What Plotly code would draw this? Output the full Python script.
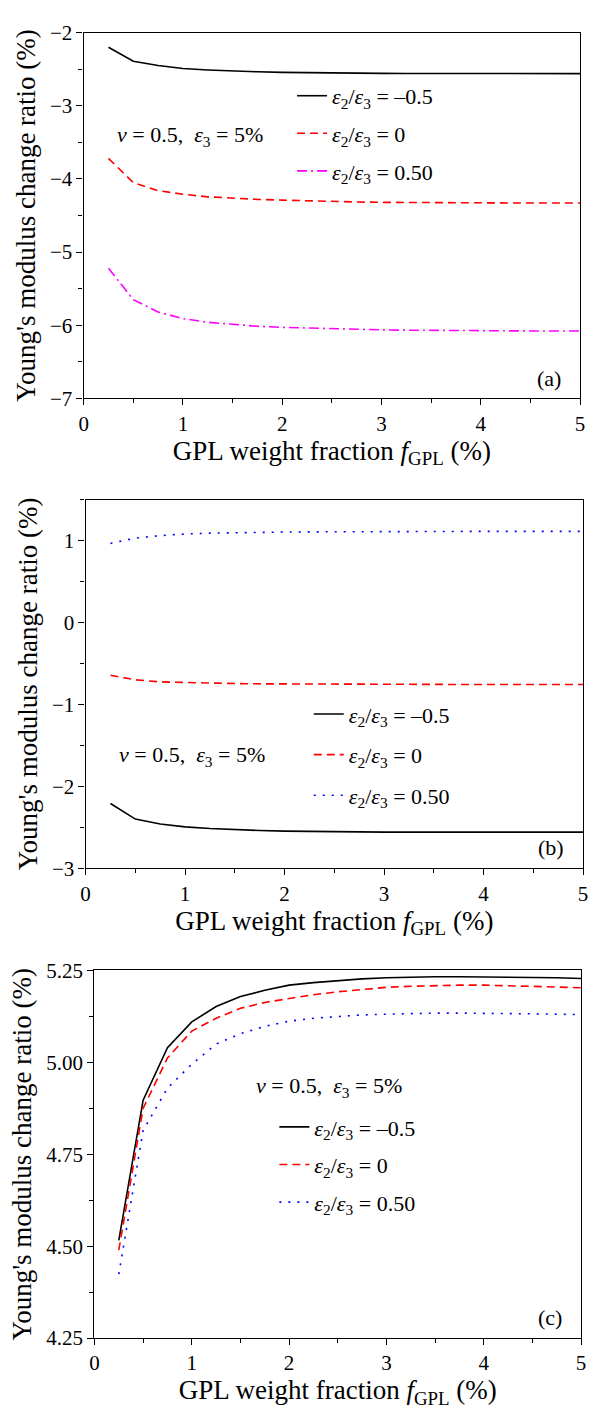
import plotly.graph_objects as go

FONT = "Liberation Serif"

# ---------------- data ----------------
f_gpl = [0.25, 0.5, 0.75, 1.0, 1.25, 1.5, 1.75, 2.0, 2.25, 2.5,
         2.75, 3.0, 3.25, 3.5, 3.75, 4.0, 4.25, 4.5, 4.75, 5.0]

# panel (a)
a_neg05 = [-2.20, -2.39, -2.45, -2.49, -2.51, -2.525, -2.535, -2.543, -2.548, -2.552,
           -2.555, -2.557, -2.558, -2.559, -2.56, -2.56, -2.56, -2.56, -2.56, -2.56]
a_zero = [-3.72, -4.05, -4.16, -4.21, -4.245, -4.265, -4.28, -4.29, -4.30, -4.31,
          -4.315, -4.32, -4.323, -4.325, -4.327, -4.328, -4.33, -4.33, -4.33, -4.33]
a_pos05 = [-5.22, -5.65, -5.82, -5.91, -5.96, -5.99, -6.015, -6.03, -6.04, -6.05,
           -6.058, -6.064, -6.068, -6.072, -6.075, -6.077, -6.078, -6.079, -6.08, -6.08]

# panel (b)
b_neg05 = [-2.21, -2.40, -2.46, -2.495, -2.515, -2.53, -2.54, -2.547, -2.552, -2.555,
           -2.557, -2.559, -2.56, -2.56, -2.56, -2.56, -2.56, -2.56, -2.56, -2.56]
b_zero = [-0.645, -0.70, -0.725, -0.735, -0.742, -0.746, -0.749, -0.751, -0.753, -0.754,
          -0.755, -0.756, -0.756, -0.757, -0.757, -0.757, -0.757, -0.757, -0.757, -0.757]
b_pos05 = [0.965, 1.03, 1.06, 1.08, 1.09, 1.097, 1.101, 1.104, 1.106, 1.108,
           1.109, 1.11, 1.111, 1.111, 1.112, 1.112, 1.112, 1.112, 1.112, 1.112]

# panel (c)
c_neg05 = [4.516, 4.897, 5.04, 5.11, 5.152, 5.179, 5.196, 5.21, 5.217, 5.223,
           5.227, 5.230, 5.232, 5.233, 5.233, 5.233, 5.232, 5.231, 5.23, 5.228]
c_zero = [4.489, 4.875, 5.012, 5.085, 5.12, 5.147, 5.163, 5.174, 5.184, 5.192,
          5.199, 5.204, 5.207, 5.209, 5.21, 5.21, 5.209, 5.207, 5.205, 5.203]
c_pos05 = [4.424, 4.815, 4.93, 4.995, 5.05, 5.078, 5.098, 5.112, 5.12, 5.125,
           5.129, 5.131, 5.133, 5.134, 5.134, 5.134, 5.133, 5.132, 5.131, 5.13]

labels = ["<i>ε</i><sub>2</sub>/<i>ε</i><sub>3</sub> = –0.5",
          "<i>ε</i><sub>2</sub>/<i>ε</i><sub>3</sub> = 0",
          "<i>ε</i><sub>2</sub>/<i>ε</i><sub>3</sub> = 0.50"]
note = "<i>ν</i> = 0.5,  <i>ε</i><sub>3</sub> = 5%"
xtitle = "GPL weight fraction <i>f</i><sub>GPL</sub> (%)"
ytitle = "Young's modulus change ratio (%)"

styles_a = [dict(color="black", width=1.6, dash="solid"),
            dict(color="#FF0000", width=1.6, dash="8px,5px"),
            dict(color="#FF00FF", width=1.6, dash="10px,4px,2px,4px")]
styles_bc = [dict(color="black", width=1.6, dash="solid"),
             dict(color="#FF0000", width=1.6, dash="8px,5px"),
             dict(color="#0000FF", width=1.6, dash="2px,7px")]

fig = go.Figure()

panels = [
    ("", [a_neg05, a_zero, a_pos05], styles_a, "legend"),
    ("2", [b_neg05, b_zero, b_pos05], styles_bc, "legend2"),
    ("3", [c_neg05, c_zero, c_pos05], styles_bc, "legend3"),
]
for suf, series, styles, leg in panels:
    for i, (ys, st) in enumerate(zip(series, styles)):
        fig.add_trace(go.Scatter(
            x=f_gpl, y=ys, mode="lines", line=st, name=labels[i],
            xaxis="x" + suf, yaxis="y" + suf, legend=leg,
            legendgroup=leg + str(i), showlegend=True))

W, H = 591, 1414


def xdom(l, r):
    return [l / W, r / W]


def ydom(top, bot):
    return [1 - bot / H, 1 - top / H]


def axis_style(**kw):
    d = dict(showline=True, linecolor="black", linewidth=1.3, mirror=True,
             ticks="outside", ticklen=6, tickwidth=1.3, tickcolor="black",
             showgrid=False, zeroline=False,
             tickfont=dict(size=21, family=FONT, color="black"))
    d.update(kw)
    return d


def xaxis(dom, anchor):
    return axis_style(domain=dom, anchor=anchor, range=[0, 5], dtick=1, tick0=0,
                      minor=dict(ticks="outside", ticklen=4, tickwidth=1.3,
                                 tickcolor="black", dtick=0.5, showgrid=False),
                      title=dict(text=xtitle, font=dict(size=27, family=FONT, color="black"),
                                 standoff=4))


def yaxis(dom, anchor, rng, dt, mdt, fmt, standoff):
    return axis_style(domain=dom, anchor=anchor, range=rng, dtick=dt, tick0=rng[0],
                      tickformat=fmt,
                      minor=dict(ticks="outside", ticklen=4, tickwidth=1.3,
                                 tickcolor="black", dtick=mdt, showgrid=False),
                      title=dict(text=ytitle, font=dict(size=27, family=FONT, color="black"),
                                 standoff=standoff))


leg_common = dict(xanchor="left", yanchor="top", bgcolor="rgba(0,0,0,0)",
                  font=dict(size=22, family=FONT, color="black"), borderwidth=0)

fig.update_layout(
    width=W, height=H, margin=dict(l=0, r=0, t=0, b=0),
    paper_bgcolor="white", plot_bgcolor="white",
    font=dict(family=FONT, color="black"),
    xaxis=xaxis(xdom(80, 585), "y"),
    yaxis=yaxis(ydom(21, 393), "x", [-7, -2], 1, 0.5, "", 6),
    xaxis2=xaxis(xdom(82, 588), "y2"),
    yaxis2=yaxis(ydom(496, 871), "x2", [-3, 1.5], 1, 0.5, "", 6),
    xaxis3=xaxis(xdom(91, 586), "y3"),
    yaxis3=yaxis(ydom(975, 1349), "x3", [4.25, 5.25], 0.25, 0.125, ".2f", 6),
    legend=dict(x=292 / W, y=1 - 64 / H, tracegroupgap=6, **leg_common),
    legend2=dict(x=309 / W, y=1 - 693 / H, tracegroupgap=9, **leg_common),
    legend3=dict(x=274 / W, y=1 - 1113 / H, tracegroupgap=6, **leg_common),
    showlegend=True,
)

ann_font = dict(size=22, family=FONT, color="black")
# condition notes
fig.add_annotation(x=0.32, y=-3.42, xref="x", yref="y", text=note, showarrow=False,
                   xanchor="left", yanchor="middle", font=ann_font)
fig.add_annotation(x=0.32, y=-1.63, xref="x2", yref="y2", text=note, showarrow=False,
                   xanchor="left", yanchor="middle", font=ann_font)
fig.add_annotation(x=1.64, y=4.933, xref="x3", yref="y3", text=note, showarrow=False,
                   xanchor="left", yanchor="middle", font=ann_font)
# panel labels
for suf, lab in [("", "(a)"), ("2", "(b)"), ("3", "(c)")]:
    fig.add_annotation(x=0.965, y=0.055, xref="x" + suf + " domain", yref="y" + suf + " domain",
                       text=lab, showarrow=False, xanchor="right", yanchor="middle",
                       font=ann_font)

fig.write_html("out.html")
